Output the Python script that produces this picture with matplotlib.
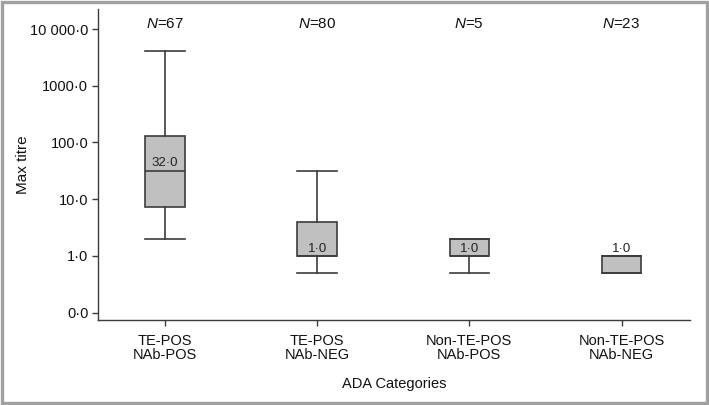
"""Box plot of max titre by ADA category (log scale, summary statistics)."""

import matplotlib

matplotlib.use("Agg")

import matplotlib.pyplot as plt  # noqa: E402
from matplotlib.patches import Rectangle  # noqa: E402
from matplotlib.transforms import blended_transform_factory  # noqa: E402

plt.rcParams["font.family"] = ["Liberation Sans", "DejaVu Sans"]
plt.rcParams["mathtext.fontset"] = "custom"
plt.rcParams["mathtext.it"] = "Liberation Sans:italic"
plt.rcParams["mathtext.rm"] = "Liberation Sans"

categories = ["TE-POS\nNAb-POS", "TE-POS\nNAb-NEG", "Non-TE-POS\nNAb-POS", "Non-TE-POS\nNAb-NEG"]
n_counts = [67, 80, 5, 23]
medians = [32.0, 1.0, 1.0, 1.0]
q1 = [7.2, 1.0, 1.0, 0.5]
q3 = [128.0, 4.0, 2.0, 1.0]
whisker_lo = [2.0, 0.5, 0.5, 0.5]
whisker_hi = [4096.0, 32.0, 2.0, 1.0]
median_labels = ["32·0", "1·0", "1·0", "1·0"]
y_ticks = [0.1, 1, 10, 100, 1000, 10000]
y_tick_labels = ["0·0", "1·0", "10·0", "100·0", "1000·0", "10 000·0"]

LINE = "#3c3c3c"
FILL = "#c0c0c0"
TEXT = "#111111"

fig = plt.figure(figsize=(7.09, 4.05), dpi=100)
ax = fig.add_axes([0.1382, 0.2099, 0.8350, 0.7671])

stats = [
    dict(med=m, q1=a, q3=b, whislo=lo, whishi=hi, fliers=[])
    for m, a, b, lo, hi in zip(medians, q1, q3, whisker_lo, whisker_hi)
]
positions = list(range(len(categories)))
line_kw = dict(color=LINE, linewidth=1.2)
ax.bxp(
    stats,
    positions=positions,
    widths=0.26,
    capwidths=0.26,
    patch_artist=True,
    showfliers=False,
    boxprops=dict(facecolor=FILL, edgecolor=LINE, linewidth=1.2),
    medianprops=line_kw,
    whiskerprops=line_kw,
    capprops=line_kw,
)

ax.set_yscale("log")
ax.set_ylim(10 ** -1.128, 10 ** 4.347)
ax.set_xlim(-0.44, 3.45)
ax.set_yticks(y_ticks)
ax.set_yticklabels(y_tick_labels)
ax.minorticks_off()
ax.set_xticks(positions)
ax.set_xticklabels(categories, linespacing=1.0)

for x, med, lab in zip(positions, medians, median_labels):
    ax.annotate(lab, (x, med), xytext=(0, 3), textcoords="offset points",
                ha="center", va="baseline", fontsize=9.5, color="#222222")

trans = blended_transform_factory(ax.transData, ax.transAxes)
for x, n in zip(positions, n_counts):
    ax.text(x, 0.953, rf"$\it{{N}}$={n}", transform=trans, ha="center", va="center",
            fontsize=11, color=TEXT)

for side in ("top", "right"):
    ax.spines[side].set_visible(False)
for side in ("left", "bottom"):
    ax.spines[side].set_color(LINE)
    ax.spines[side].set_linewidth(1.0)
ax.tick_params(axis="both", direction="out", length=4, width=1.0, color=LINE,
               labelsize=10.5, labelcolor=TEXT)
ax.tick_params(axis="y", pad=3)
ax.tick_params(axis="x", pad=6)

ax.set_ylabel("Max titre", fontsize=11, color=TEXT, labelpad=0)
ax.set_xlabel("ADA Categories", fontsize=10.5, color=TEXT, labelpad=11)

fig.patches.append(Rectangle((0.003, 0.005), 0.994, 0.99, transform=fig.transFigure,
                             fill=False, edgecolor="#a0a0a0", linewidth=2.4))

fig.savefig("out.png", dpi=100)
plt.close(fig)
